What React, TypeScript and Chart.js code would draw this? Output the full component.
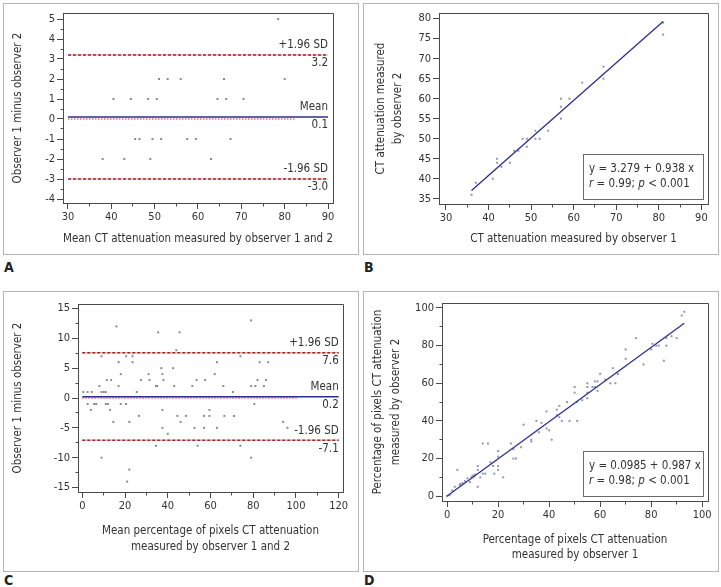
import React, { useEffect, useRef } from "react";
import { Chart, registerables } from "chart.js";

Chart.register(...registerables);

const FONT = "'DejaVu Sans Condensed', 'DejaVu Sans', sans-serif";
const TEXT_COLOR = "#333333";
const AXIS_COLOR = "#4a4a4a";
const FRAME_COLOR = "#b4b4b4";
const POINT_GRAY = "#8a8a8a";
const POINT_BLUE = "#9094b8";
const LINE_BLUE = "#2c2e8e";
const SD_RED = "#992a2a";
const SD_PINK = "#f0bcbc";
const ZERO_PINK = "#e46a86";
const TICK_SIZE = 11;
const TITLE_SIZE = 11.5;

// ---------------- Panel A (Bland-Altman, CT attenuation) ----------------
const aPoints: [number, number][] = [
  [78.5, 5], [51, 2], [53, 2], [56, 2], [66, 2], [80, 2],
  [40.5, 1], [44.5, 1], [48.5, 1], [50.5, 1], [64.5, 1], [66.5, 1], [70.5, 1],
  [45.5, -1], [46.5, -1], [49.5, -1], [51.5, -1], [57.5, -1], [59.5, -1], [67.5, -1],
  [38, -2], [43, -2], [49, -2], [63, -2],
];
const aLimitValues = [3.2, 0.1, -3.0];
const aLimitLabels = ["+1.96 SD", "Mean", "-1.96 SD"];
const aZeroSpan = [30, 82.5];
const aXTicks = [30, 40, 50, 60, 70, 80, 90];
const aXMinor = [35, 45, 55, 65, 75, 85];
const aYTicks = [-4, -3, -2, -1, 0, 1, 2, 3, 4, 5];
const aYMinor = [-3.5, -2.5, -1.5, -0.5, 0.5, 1.5, 2.5, 3.5, 4.5];

// ---------------- Panel B (correlation, CT attenuation) ----------------
const bPoints: [number, number][] = [
  [36, 36], [37, 39], [41, 40], [42, 45], [42, 44], [43, 43], [45, 44], [46, 47],
  [47, 47], [48, 50], [49, 50], [49, 48], [51, 52], [51, 50], [52, 50], [54, 52],
  [57, 60], [57, 58], [57, 55], [59, 60], [62, 64], [67, 68], [67, 65], [81, 76], [81, 79],
];
const bFitX = [36, 81];
const bFitY = [37.05, 79.26];
const bEquation = ["3.279", "0.938"];
const bStats = ["0.99", "0.001"];
const bXTicks = [30, 40, 50, 60, 70, 80, 90];
const bXMinor = [35, 45, 55, 65, 75, 85];
const bYTicks = [35, 40, 45, 50, 55, 60, 65, 70, 75, 80];

// ---------------- Panel C (Bland-Altman, percentage of pixels) ----------------
const cPoints: [number, number][] = [
  [16, 12], [35.5, 11], [45.5, 11], [44, 8], [9, 7], [20.5, 7], [23.5, 7], [17, 6], [23.5, 6],
  [37, 5], [42.5, 5], [18, 4], [31, 4], [37.5, 4], [11.5, 3], [13.5, 3], [27.5, 3], [31.5, 3],
  [38, 3], [53.5, 3], [57.5, 3], [8, 2], [17, 2], [34.5, 2], [35, 2], [43, 2], [51.5, 2],
  [0.5, 1], [2.5, 1], [4.5, 1], [9, 1], [10, 1], [11, 1], [25.5, 1],
  [2.5, -1], [5.5, -1], [6.5, -1], [11, -1], [12, -1], [18, -1], [20.5, -1],
  [4, -2], [13, -2], [37.5, -2], [59.5, -2], [26.5, -3], [44.5, -3], [48.5, -3], [57, -3],
  [59.5, -3], [14.5, -4], [22, -4], [46, -4], [37.5, -5], [52.5, -5], [57, -5], [40, -6],
  [34.5, -8], [54, -8], [9, -10], [22, -12], [21, -14],
  [79, 13], [74, 7], [63, 6], [83, 6], [87, 6], [62, 4], [82, 3], [86, 3], [66, 2], [79, 2],
  [81, 2], [85, 2], [70.5, 1], [80.5, -1], [66.5, -3], [71, -3], [63, -5], [94, -4], [96, -5],
  [74, -8], [79, -10],
];
const cLimitValues = [7.6, 0.2, -7.1];
const cLimitLabels = ["+1.96 SD", "Mean", "-1.96 SD"];
const cZeroSpan = [0, 101];
const cXTicks = [0, 20, 40, 60, 80, 100, 120];
const cXMinor = [10, 30, 50, 70, 90, 110];
const cYTicks = [-15, -10, -5, 0, 5, 10, 15];
const cYMinor = [-12.5, -7.5, -2.5, 2.5, 7.5, 12.5];

// ---------------- Panel D (correlation, percentage of pixels) ----------------
const dPoints: [number, number][] = [
  [0, 0], [1, 0.5], [2, 3], [3, 5], [4, 14], [5, 6], [5.2, 6.5], [6, 7], [7, 8], [8, 9.5],
  [9, 7.5], [9.5, 10], [10, 11], [10.5, 10.5], [11, 11.5], [12, 16], [12, 14], [12, 5], [13, 10],
  [14, 28], [14, 12], [15, 12], [16, 28], [17, 18], [18, 16], [18.5, 12], [20, 24], [20, 21],
  [20, 16], [20, 14], [22, 10], [25, 28], [26, 25], [26, 20], [27, 20], [29, 26], [30, 38],
  [33, 30], [33, 29], [35, 40], [36, 34], [37, 39], [39, 45], [39, 36], [40, 35], [41, 30],
  [43, 46], [43, 43], [44, 48], [44, 42], [45, 40], [47, 50], [48, 40], [50, 55], [50, 58],
  [51, 40], [51, 50], [53, 51], [55, 60], [55, 58], [55, 55], [55, 52], [57, 58], [58, 61],
  [58, 58], [59, 61], [59, 56], [60, 65], [62, 62], [64, 60], [65, 68], [66, 60], [67, 65],
  [70, 78], [70, 73], [74, 84], [77, 70], [80, 78], [80.5, 81], [82, 80], [83, 80], [85, 72],
  [86, 84], [86, 80], [88, 85], [90, 84], [92, 96], [93, 98],
];
const dFitX = [0, 93];
const dFitY = [0.1, 91.9];
const dEquation = ["0.0985", "0.987"];
const dStats = ["0.98", "0.001"];
const dXTicks = [0, 20, 40, 60, 80, 100];
const dXMinor = [10, 30, 50, 70, 90];
const dYTicks = [0, 20, 40, 60, 80, 100];
const dYMinor = [10, 30, 50, 70, 90];

// ---------------- helpers ----------------
type Pt = { x: number; y: number };
const toPts = (arr: [number, number][]): Pt[] => arr.map(([x, y]) => ({ x, y }));
const hline = (y: number, span: number[]): Pt[] => [{ x: span[0], y }, { x: span[1], y }];
const al = (p: number) => Math.round(p - 0.5) + 0.5;

interface AxisCfg {
  min: number;
  max: number;
  ticks: number[];
  minor: number[];
  title: string[];
  lineHeight: number;
  titlePad: number;
}
interface PanelCfg {
  left: number;
  top: number;
  w: number;
  h: number;
  area: { l: number; t: number; r: number; b: number };
  x: AxisCfg;
  y: AxisCfg;
  datasets: any[];
  overlay?: (chart: any) => void;
}

function scatterDs(points: [number, number][], color: string) {
  return {
    data: toPts(points),
    pointStyle: "rect",
    pointRadius: 1.4,
    pointBackgroundColor: color,
    pointBorderWidth: 0,
    showLine: false,
    order: 10,
  };
}
function lineDs(data: Pt[], color: string, width: number, dash: number[], order: number) {
  return {
    data,
    showLine: true,
    borderColor: color,
    borderWidth: width,
    borderDash: dash,
    pointRadius: 0,
    fill: false,
    order,
  };
}

function blandAltmanDatasets(points: [number, number][], limits: number[], span: number[], zeroSpan: number[]) {
  return [
    scatterDs(points, POINT_GRAY),
    lineDs(hline(0, zeroSpan), ZERO_PINK, 1.5, [1.5, 1.5], 3),
    lineDs(hline(limits[0], span), SD_PINK, 1.5, [], 4),
    lineDs(hline(limits[0], span), SD_RED, 1.5, [3, 2], 2),
    lineDs(hline(limits[2], span), SD_PINK, 1.5, [], 4),
    lineDs(hline(limits[2], span), SD_RED, 1.5, [3, 2], 2),
    lineDs(hline(limits[1], span), LINE_BLUE, 1.5, [], 1),
  ];
}

function limitLabelsOverlay(limits: number[], labels: string[], xAt: number) {
  return (chart: any) => {
    const { ctx, scales } = chart;
    const x = scales.x.getPixelForValue(xAt);
    ctx.save();
    ctx.fillStyle = TEXT_COLOR;
    ctx.font = `${TITLE_SIZE}px ${FONT}`;
    ctx.textAlign = "right";
    ctx.textBaseline = "middle";
    limits.forEach((v, i) => {
      const y = scales.y.getPixelForValue(v);
      ctx.fillText(labels[i], x, y - 9.5);
      ctx.fillText(v.toFixed(1), x, y + 8.5);
    });
    ctx.restore();
  };
}

function equationOverlay(eq: string[], stats: string[]) {
  return (chart: any) => {
    const { ctx, chartArea: ca } = chart;
    const bw = 120;
    const bh = 45;
    const bx = Math.round(ca.right - 5 - bw);
    const by = Math.round(ca.bottom - 5 - bh);
    ctx.save();
    ctx.fillStyle = "#ffffff";
    ctx.fillRect(bx, by, bw, bh);
    ctx.strokeStyle = "#6a6a6a";
    ctx.lineWidth = 1;
    ctx.strokeRect(bx + 0.5, by + 0.5, bw, bh);
    ctx.fillStyle = TEXT_COLOR;
    ctx.textAlign = "left";
    ctx.textBaseline = "middle";
    const normal = `${TITLE_SIZE}px ${FONT}`;
    const italic = `italic ${TITLE_SIZE}px ${FONT}`;
    ctx.font = normal;
    ctx.fillText(`y = ${eq[0]} + ${eq[1]} x`, bx + 6, by + 15);
    const segs: [string, string][] = [
      ["r", italic],
      [` = ${stats[0]}; `, normal],
      ["p", italic],
      [` < ${stats[1]}`, normal],
    ];
    let cx = bx + 6;
    segs.forEach(([t, f]) => {
      ctx.font = f;
      ctx.fillText(t, cx, by + 30);
      cx += ctx.measureText(t).width;
    });
    ctx.restore();
  };
}

function buildChart(canvas: HTMLCanvasElement, cfg: PanelCfg) {
  const { w, h, area } = cfg;
  const frameMinor = {
    id: "frameMinor",
    afterDraw(chart: any) {
      const { ctx, chartArea: ca, scales } = chart;
      ctx.save();
      ctx.strokeStyle = AXIS_COLOR;
      ctx.lineWidth = 1;
      ctx.beginPath();
      ctx.moveTo(al(ca.left), al(ca.top));
      ctx.lineTo(al(ca.right), al(ca.top));
      ctx.lineTo(al(ca.right), al(ca.bottom));
      cfg.x.minor.forEach((v) => {
        const px = al(scales.x.getPixelForValue(v));
        ctx.moveTo(px, al(ca.bottom));
        ctx.lineTo(px, al(ca.bottom) + 3);
      });
      cfg.y.minor.forEach((v) => {
        const py = al(scales.y.getPixelForValue(v));
        ctx.moveTo(al(ca.left) - 3, py);
        ctx.lineTo(al(ca.left), py);
      });
      ctx.stroke();
      ctx.restore();
      if (cfg.overlay) cfg.overlay(chart);
    },
  };
  const axis = (a: AxisCfg, horizontal: boolean) => ({
    type: "linear",
    position: horizontal ? "bottom" : "left",
    min: a.min,
    max: a.max,
    afterBuildTicks: (s: any) => {
      s.ticks = a.ticks.map((v) => ({ value: v }));
    },
    afterFit: (s: any) => {
      if (horizontal) s.height = h - area.b;
      else s.width = area.l;
    },
    ticks: {
      color: TEXT_COLOR,
      font: { family: FONT, size: TICK_SIZE },
      padding: 2,
      maxRotation: 0,
      autoSkip: false,
      callback: (v: any) => String(v),
    },
    grid: {
      display: true,
      drawOnChartArea: false,
      drawTicks: true,
      tickLength: 6,
      color: AXIS_COLOR,
      lineWidth: 1,
    },
    border: { display: true, color: AXIS_COLOR, width: 1 },
    title: {
      display: true,
      text: a.title,
      color: TEXT_COLOR,
      font: { family: FONT, size: TITLE_SIZE, lineHeight: a.lineHeight },
      padding: horizontal ? { top: 0, bottom: a.titlePad } : { top: a.titlePad, bottom: 0 },
    },
  });
  return new Chart(canvas, {
    type: "scatter",
    data: { datasets: cfg.datasets },
    options: {
      responsive: false,
      animation: false,
      devicePixelRatio: 1,
      events: [],
      layout: { padding: { top: area.t, right: w - area.r, left: 0, bottom: 0 } },
      plugins: { legend: { display: false }, tooltip: { enabled: false } },
      scales: { x: axis(cfg.x, true), y: axis(cfg.y, false) },
    } as any,
    plugins: [frameMinor],
  });
}

function Panel({ cfg }: { cfg: PanelCfg }) {
  const ref = useRef<HTMLCanvasElement>(null);
  useEffect(() => {
    const chart = buildChart(ref.current!, cfg);
    return () => chart.destroy();
  }, []);
  return (
    <canvas
      ref={ref}
      width={cfg.w}
      height={cfg.h}
      style={{ position: "absolute", left: cfg.left, top: cfg.top, width: cfg.w, height: cfg.h }}
    />
  );
}

const panelA: PanelCfg = {
  left: 4, top: 4, w: 354, h: 250,
  area: { l: 59, t: 9, r: 329, b: 199 },
  x: { min: 28.85, max: 91.15, ticks: aXTicks, minor: aXMinor, title: ["Mean CT attenuation measured by observer 1 and 2"], lineHeight: 1.25, titlePad: 7.5 },
  y: { min: -4.2, max: 5.3, ticks: aYTicks, minor: aYMinor, title: ["Observer 1 minus observer 2"], lineHeight: 1.25, titlePad: 7 },
  datasets: blandAltmanDatasets(aPoints, aLimitValues, [aXTicks[0], aXTicks[aXTicks.length - 1]], aZeroSpan),
  overlay: limitLabelsOverlay(aLimitValues, aLimitLabels, aXTicks[aXTicks.length - 1]),
};

const panelB: PanelCfg = {
  left: 364, top: 4, w: 354, h: 250,
  area: { l: 75, t: 9, r: 344, b: 200 },
  x: { min: 28.36, max: 91.55, ticks: bXTicks, minor: bXMinor, title: ["CT attenuation measured by observer 1"], lineHeight: 1.25, titlePad: 7.5 },
  y: { min: 33.7, max: 81.4, ticks: bYTicks, minor: [], title: ["CT attenuation measured", "by observer 2"], lineHeight: 1.5, titlePad: 8 },
  datasets: [
    scatterDs(bPoints, POINT_BLUE),
    lineDs([{ x: bFitX[0], y: bFitY[0] }, { x: bFitX[1], y: bFitY[1] }], LINE_BLUE, 1.3, [], 1),
  ],
  overlay: equationOverlay(bEquation, bStats),
};

const panelC: PanelCfg = {
  left: 4, top: 292, w: 354, h: 279,
  area: { l: 74, t: 12, r: 339, b: 200 },
  x: { min: -2, max: 122, ticks: cXTicks, minor: cXMinor, title: ["Mean percentage of pixels CT attenuation", "measured by observer 1 and 2"], lineHeight: 1.4, titlePad: 16 },
  y: { min: -15.75, max: 15.75, ticks: cYTicks, minor: cYMinor, title: ["Observer 1 minus observer 2"], lineHeight: 1.25, titlePad: 7 },
  datasets: blandAltmanDatasets(cPoints, cLimitValues, [cXTicks[0], cXTicks[cXTicks.length - 1]], cZeroSpan),
  overlay: limitLabelsOverlay(cLimitValues, cLimitLabels, cXTicks[cXTicks.length - 1]),
};

const panelD: PanelCfg = {
  left: 364, top: 292, w: 354, h: 279,
  area: { l: 78, t: 11, r: 344, b: 209 },
  x: { min: -2, max: 102.3, ticks: dXTicks, minor: dXMinor, title: ["Percentage of pixels CT attenuation", "measured by observer 1"], lineHeight: 1.32, titlePad: 8 },
  y: { min: -2.55, max: 102.65, ticks: dYTicks, minor: dYMinor, title: ["Percentage of pixels CT attenuation", "measured by observer 2"], lineHeight: 1.56, titlePad: 5.5 },
  datasets: [
    scatterDs(dPoints, POINT_BLUE),
    lineDs([{ x: dFitX[0], y: dFitY[0] }, { x: dFitX[1], y: dFitY[1] }], LINE_BLUE, 1.3, [], 1),
  ],
  overlay: equationOverlay(dEquation, dStats),
};

const frames = [
  { left: 3, top: 3, width: 356, height: 252, label: "A", labelTop: 259 },
  { left: 363, top: 3, width: 356, height: 252, label: "B", labelTop: 259 },
  { left: 3, top: 291, width: 356, height: 281, label: "C", labelTop: 572 },
  { left: 363, top: 291, width: 356, height: 281, label: "D", labelTop: 572 },
];

export default function App() {
  return (
    <div style={{ position: "absolute", left: 0, top: 0, width: 721, height: 587, background: "#fff", overflow: "hidden" }}>
      {frames.map((f) => (
        <React.Fragment key={f.label}>
          <div
            style={{
              position: "absolute",
              left: f.left,
              top: f.top,
              width: f.width,
              height: f.height,
              border: `1px solid ${FRAME_COLOR}`,
              boxSizing: "border-box",
            }}
          />
          <div
            style={{
              position: "absolute",
              left: f.left + 1,
              top: f.labelTop,
              fontFamily: FONT,
              fontWeight: "bold",
              fontSize: 14,
              lineHeight: "16px",
              color: "#222",
            }}
          >
            {f.label}
          </div>
        </React.Fragment>
      ))}
      <Panel cfg={panelA} />
      <Panel cfg={panelB} />
      <Panel cfg={panelC} />
      <Panel cfg={panelD} />
    </div>
  );
}
